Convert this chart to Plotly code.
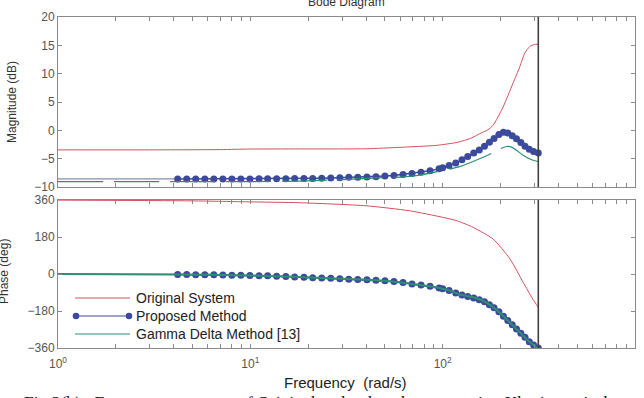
import plotly.graph_objects as go

# ---------------- data ----------------
NYQUIST = 314.16  # rad/s

orig_mag_w = [1, 3, 7, 10, 18, 40, 60, 93, 120, 140, 160, 172, 183, 206, 232, 252, 267, 284, 300, 314.16]
orig_mag = [-3.45, -3.45, -3.4, -3.3, -3.28, -3.25, -3.0, -2.65, -2.1, -1.4, -0.4, 0.1, 0.9, 4.1, 8.3, 11.25, 13.6, 14.8, 15.15, 15.2]

orig_ph_w = [1, 5, 10, 18, 40, 67, 100, 119, 144, 183, 224, 262, 294, 314.16]
orig_ph = [359.5, 356, 351, 347, 332, 308, 276, 259, 227, 170, 73, -40, -122, -162]

prop_w = [4.19, 4.67, 5.2, 5.8, 6.46, 7.2, 8.02, 8.93, 9.95, 11.1, 12.3, 13.7, 15.3, 17.0,
          19.0, 21.1, 23.5, 26.2, 29.2, 32.5, 36.2, 40.4, 45.0, 50.1, 55.8, 62.2, 69.3,
          77.2, 86.0, 95.8, 100, 108, 117, 126, 135, 145, 155, 165, 175, 185, 196, 207,
          218, 230, 242, 255, 268, 282, 297, 314.16]
prop_mag = [-8.58, -8.58, -8.58, -8.58, -8.58, -8.58, -8.57, -8.57, -8.57, -8.56, -8.55,
            -8.55, -8.54, -8.52, -8.5, -8.48, -8.45, -8.41, -8.36, -8.3, -8.28, -8.25,
            -8.18, -8.08, -7.95, -7.78, -7.6, -7.4, -7.15, -6.8, -6.6, -6.2, -5.75, -5.2,
            -4.6, -4.0, -3.45, -2.8, -2.1, -1.45, -0.75, -0.35, -0.45, -0.95, -1.47,
            -2.15, -2.8, -3.35, -3.75, -4.0]
prop_ph = [-2, -2.5, -3, -3.5, -4, -5, -5.5, -6.5, -7, -8, -9, -10.5, -12, -14, -16, -18,
           -19.5, -21, -23, -25, -26.5, -28, -30, -33, -37, -41, -48, -54, -60, -68, -72,
           -80, -92, -102, -110, -117, -125, -135, -150, -164, -184, -205, -226, -247,
           -268, -288, -308, -329, -346, -360]

# low-frequency part of the proposed model (drawn without markers)
prop_low_w = [1, 4.19]
prop_low_mag = [-8.55, -8.58]
prop_low_ph = [0, -2]

gam_mag_w = [1, 10, 18, 30, 49, 60, 73, 100, 120, 144, 169, 198, 215, 230, 262, 290, 314.16]
gam_mag = [-9.06, -9.05, -8.95, -8.7, -8.35, -8.25, -8.0, -7.1, -6.5, -5.5, -4.5, -3.3, -2.85, -3.0, -4.4, -5.2, -5.5]

gam_ph_w = [1, 4, 10, 18, 30, 50, 73, 89, 109, 123, 144, 162, 183, 206, 232, 252, 284, 314.16]
gam_ph = [0, -2, -7, -15, -23, -33, -51, -62, -81, -100, -113, -130, -162, -203, -251, -284, -332, -360]

x_tickvals = [1, 2, 3, 4, 5, 6, 7, 8, 9, 10, 20, 30, 40, 50, 60, 70, 80, 90,
              100, 200, 300, 400, 500, 600, 700, 800, 900, 1000]
x_ticktext = ["10<sup>0</sup>", "", "", "", "", "", "", "", "",
              "10<sup>1</sup>", "", "", "", "", "", "", "", "",
              "10<sup>2</sup>", "", "", "", "", "", "", "", "",
              "10<sup>3</sup>"]
mag_ticks = [-10, -5, 0, 5, 10, 15, 20]
ph_ticks = [-360, -180, 0, 180, 360]

legend_names = ["Original System", "Proposed Method", "Gamma Delta Method [13]"]

# ---------------- styles ----------------
RED = "#d4505e"
BLUE = "#3b4a9c"
BLUE_LIGHT = "#8090b0"
GREEN = "#2e8f72"
FRAME = "#8a8a8a"
TXT = "#555555"

fig = go.Figure()

def add(x, y, xa, ya, **kw):
    fig.add_trace(go.Scatter(x=x, y=y, xaxis=xa, yaxis=ya, showlegend=False, hoverinfo="skip", **kw))

# magnitude
add(orig_mag_w, orig_mag, "x", "y", mode="lines", line=dict(color=RED, width=1, shape="spline", smoothing=0.6))
add(prop_low_w, prop_low_mag, "x", "y", mode="lines", line=dict(color=BLUE_LIGHT, width=1.2))
add(prop_w, prop_mag, "x", "y", mode="lines+markers", line=dict(color=BLUE, width=1.5),
    marker=dict(color=BLUE, size=7))
add(gam_mag_w, gam_mag, "x", "y", mode="lines", line=dict(color=GREEN, width=1.2, shape="spline", smoothing=0.6, dash="45px,11px"))

# phase
add(orig_ph_w, orig_ph, "x2", "y2", mode="lines", line=dict(color=RED, width=1, shape="spline", smoothing=0.6))
add(prop_low_w, prop_low_ph, "x2", "y2", mode="lines", line=dict(color=BLUE_LIGHT, width=1.2))
add(prop_w, prop_ph, "x2", "y2", mode="lines+markers", line=dict(color=BLUE, width=1.5),
    marker=dict(color=BLUE, size=7))
add(gam_ph_w, gam_ph, "x2", "y2", mode="lines", line=dict(color=GREEN, width=2, shape="spline", smoothing=0.6))

axis_common = dict(showline=True, linecolor=FRAME, linewidth=1, mirror="ticks", ticks="inside",
                   ticklen=4, tickcolor=FRAME, showgrid=False, zeroline=False,
                   tickfont=dict(family="Liberation Sans, Arial", size=12, color=TXT))

fig.update_layout(
    width=644, height=398,
    margin=dict(l=58, r=9, t=17, b=50),
    plot_bgcolor="white", paper_bgcolor="white",
    xaxis=dict(type="log", range=[0, 3], domain=[0, 1], anchor="y",
               tickvals=x_tickvals, ticktext=x_ticktext, showticklabels=False, **axis_common),
    yaxis=dict(range=[-10, 20], domain=[0.4864, 1], anchor="x", tickvals=mag_ticks, **axis_common),
    xaxis2=dict(type="log", range=[0, 3], domain=[0, 1], anchor="y2", ticklabelstandoff=5,
                tickvals=x_tickvals, ticktext=x_ticktext, **axis_common),
    yaxis2=dict(range=[-360, 360], domain=[0, 0.447], anchor="x2", tickvals=ph_ticks, **axis_common),
)

# Nyquist frequency line in both panels
for xr, yr in (("x", "y domain"), ("x2", "y2 domain")):
    fig.add_shape(type="line", xref=xr, yref=yr, x0=NYQUIST, x1=NYQUIST, y0=0, y1=1,
                  line=dict(color="#404040", width=1.6))

def px(X):
    return (X - 58) / 577.0

def py(Y):
    return (348 - Y) / 331.0

ann_font = dict(family="Liberation Sans, Arial", size=12, color="#333333")

fig.add_annotation(text="Bode Diagram", xref="paper", yref="paper", x=px(346), y=py(11),
                   xanchor="center", yanchor="bottom", showarrow=False, font=ann_font)
fig.add_annotation(text="Magnitude (dB)", xref="paper", yref="paper", x=px(12), y=py(102),
                   textangle=-90, xanchor="center", yanchor="middle", showarrow=False, font=ann_font)
fig.add_annotation(text="Phase (deg)", xref="paper", yref="paper", x=px(4), y=py(272),
                   textangle=-90, xanchor="center", yanchor="middle", showarrow=False, font=ann_font)
fig.add_annotation(text="Frequency  (rad/s)", xref="paper", yref="paper", x=px(345), y=py(382),
                   xanchor="center", yanchor="middle", showarrow=False,
                   font=dict(family="Liberation Sans, Arial", size=15, color="#222222"))
fig.add_annotation(text="Fig 2(b):  Frequency response of Original and reduced system using Kharitonov's theorem",
                   xref="paper", yref="paper", x=px(22), y=py(390), xanchor="left", yanchor="top",
                   showarrow=False, font=dict(family="Liberation Serif, Times New Roman", size=17.5, color="#111111"))

# manual legend
leg_rows = [298, 316, 334]
leg_colors = [RED, BLUE, GREEN]
for name, Y, col in zip(legend_names, leg_rows, leg_colors):
    fig.add_shape(type="line", xref="paper", yref="paper", x0=px(75), x1=px(130), y0=py(Y), y1=py(Y),
                  line=dict(color=col, width=1.2))
    fig.add_annotation(text=name, xref="paper", yref="paper", x=px(134), y=py(Y), xanchor="left",
                       yanchor="middle", showarrow=False,
                       font=dict(family="Liberation Sans, Arial", size=14, color="#222222"))
for Xc in (76, 129):
    fig.add_shape(type="circle", xref="paper", yref="paper", x0=px(Xc - 3.3), x1=px(Xc + 3.3),
                  y0=py(316 + 3.3), y1=py(316 - 3.3), fillcolor=BLUE, line=dict(color=BLUE, width=0))

fig.write_html("out.html")
